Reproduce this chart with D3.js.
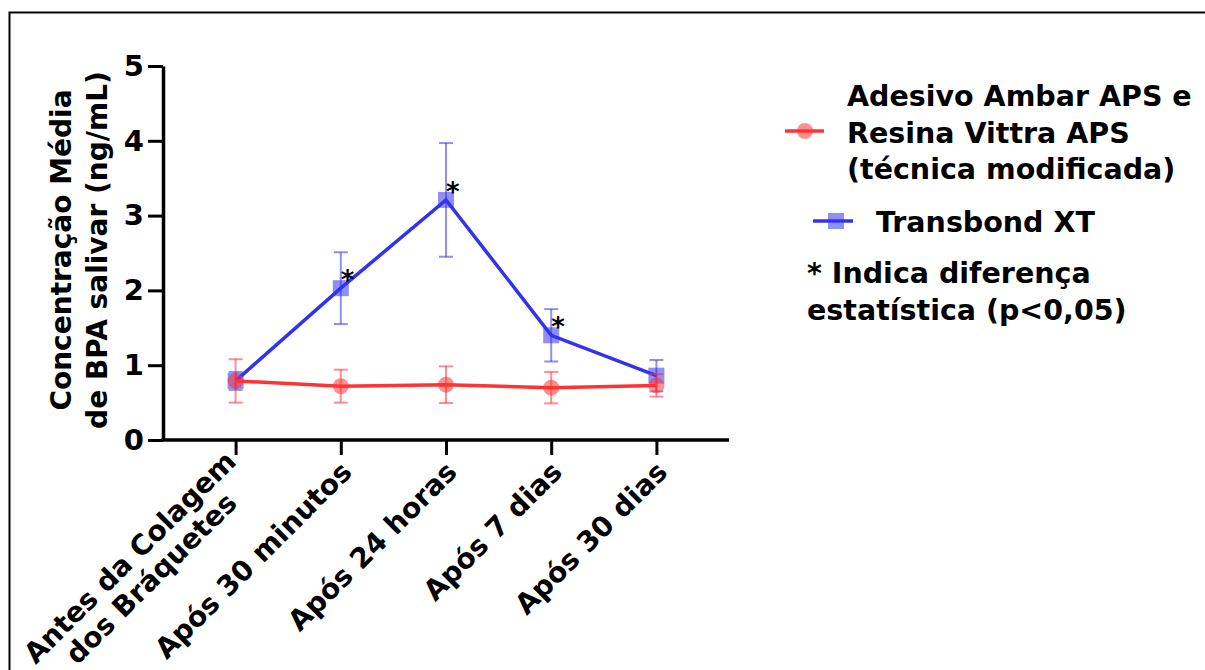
<!DOCTYPE html>
<html><head><meta charset="utf-8">
<script src="https://cdn.jsdelivr.net/npm/d3@7"></script>
<style>
body{margin:0;background:#fff;}
svg{display:block;font-family:"DejaVu Sans",Verdana,sans-serif;font-weight:bold;}
</style></head>
<body>
<svg id="c" width="1205" height="670"></svg>
<script>
// ---- data ----
const categories = ["Antes da Colagem\ndos  Bráquetes","Após 30 minutos","Após 24 horas","Após 7 dias","Após 30 dias"];
const redMean = [0.79,0.72,0.74,0.70,0.73];
const redErr  = [0.29,0.22,0.245,0.21,0.15];
const blueMean = [0.79,2.03,3.21,1.40,0.86];
const blueErr  = [0.12,0.48,0.76,0.35,0.21];
const significant = [false,true,true,true,false];
const yTicks = [0,1,2,3,4,5];
const yTitle = ["Concentração Média","de BPA salivar (ng/mL)"];
const legendRed = ["Adesivo Ambar APS e","Resina Vittra APS","(técnica modificada)"];
const legendBlue = "Transbond XT";
const noteLines = ["* Indica diferença","estatística (p<0,05)"];

const svg = d3.select("#c");
const RED = "#ff3333", BLUE = "#3333ee";

// frame
svg.append("path").attr("d","M9.5,670 V12.5 H1205").attr("fill","none").attr("stroke","#000").attr("stroke-width",2);

const x = d3.scalePoint().domain(d3.range(categories.length)).range([163,729]).padding(0.69);
const y = d3.scaleLinear().domain([0,5]).range([440,66]);

// y axis
const ya = svg.append("g").attr("transform","translate(163,0)")
  .call(d3.axisLeft(y).tickValues(yTicks).tickSize(15).tickSizeOuter(0).tickPadding(4).tickFormat(d3.format("d")));
ya.select(".domain").attr("stroke-width",3.5);
ya.selectAll(".tick line").attr("stroke-width",3);
ya.selectAll(".tick text").attr("font-size",29).attr("font-family","DejaVu Sans").attr("font-weight","bold").attr("fill","#000");

// x axis
const xa = svg.append("g").attr("transform","translate(0,440)")
  .call(d3.axisBottom(x).tickSize(15).tickSizeOuter(0).tickFormat(""));
xa.select(".domain").attr("stroke-width",3.5).attr("d","M161.25,0H729");
xa.selectAll(".tick line").attr("stroke-width",3);

// x labels
const xl = svg.append("g");
categories.forEach((c,i)=>{
  const lines = c.split("\n");
  const g = xl.append("g").attr("transform",`translate(${x(i)+7},${468}) rotate(-45)`);
  const t = g.append("text").attr("text-anchor", lines.length>1 ? "middle":"end").attr("font-size",28).attr("fill","#000");
  if(lines.length>1){
    const tmp = t.append("tspan").text(lines[0]);
    const w = tmp.node().getComputedTextLength();
    tmp.remove();
    lines.forEach((l,k)=>{
      t.append("tspan").attr("x",-w/2).attr("dy",k===0? -7 : 30).text(l);
    });
  } else {
    t.text(lines[0]).attr("dy",8);
  }
});

// y title
const yt = svg.append("text").attr("transform","translate(71,250) rotate(-90)")
  .attr("text-anchor","middle").attr("font-size",28).attr("fill","#000");
yTitle.forEach((l,k)=> yt.append("tspan").attr("x",0).attr("dy",k?36:0).text(l));

// series drawing
function drawSeries(mean, err, color, shape){
  const g = svg.append("g");
  mean.forEach((m,i)=>{
    const cx = x(i);
    const eg = g.append("g").attr("stroke",color).attr("stroke-opacity",0.55).attr("stroke-width",2);
    eg.append("line").attr("x1",cx).attr("x2",cx).attr("y1",y(m-err[i])).attr("y2",y(m+err[i]));
    eg.append("line").attr("x1",cx-7).attr("x2",cx+7).attr("y1",y(m-err[i])).attr("y2",y(m-err[i]));
    eg.append("line").attr("x1",cx-7).attr("x2",cx+7).attr("y1",y(m+err[i])).attr("y2",y(m+err[i]));
  });
  g.append("path").datum(mean)
    .attr("d", d3.line().x((d,i)=>x(i)).y(d=>y(d)))
    .attr("fill","none").attr("stroke",color).attr("stroke-width",3.5);
  mean.forEach((m,i)=>{
    if(shape==="circle"){
      g.append("circle").attr("cx",x(i)).attr("cy",y(m)).attr("r",8).attr("fill",color).attr("fill-opacity",0.55);
    } else {
      g.append("rect").attr("x",x(i)-8).attr("y",y(m)-8).attr("width",16).attr("height",16).attr("fill",color).attr("fill-opacity",0.55);
    }
  });
}
drawSeries(blueMean, blueErr, BLUE, "square");
drawSeries(redMean, redErr, RED, "circle");

// significance asterisks
significant.forEach((s,i)=>{
  if(!s) return;
  svg.append("text").attr("x",x(i)).attr("y",y(blueMean[i])+1).attr("font-size",26).attr("fill","#000").text("*");
});

// legend
const lg = svg.append("g").attr("fill","#000").attr("font-size",28.5);
lg.append("line").attr("x1",785).attr("x2",824).attr("y1",131).attr("y2",131).attr("stroke",RED).attr("stroke-width",3.5);
lg.append("circle").attr("cx",805).attr("cy",131).attr("r",8).attr("fill",RED).attr("fill-opacity",0.55);
const lt = lg.append("text").attr("x",847).attr("y",106);
legendRed.forEach((l,k)=> lt.append("tspan").attr("x",847).attr("dy",k?36.5:0).text(l));
lg.append("line").attr("x1",813).attr("x2",853).attr("y1",221).attr("y2",221).attr("stroke",BLUE).attr("stroke-width",3.5);
lg.append("rect").attr("x",828).attr("y",213).attr("width",16).attr("height",16).attr("fill",BLUE).attr("fill-opacity",0.55);
lg.append("text").attr("x",876).attr("y",232).text(legendBlue);
const nt = lg.append("text").attr("x",807).attr("y",283);
noteLines.forEach((l,k)=> nt.append("tspan").attr("x",807).attr("dy",k?37:0).text(l));
</script>
</body></html>
